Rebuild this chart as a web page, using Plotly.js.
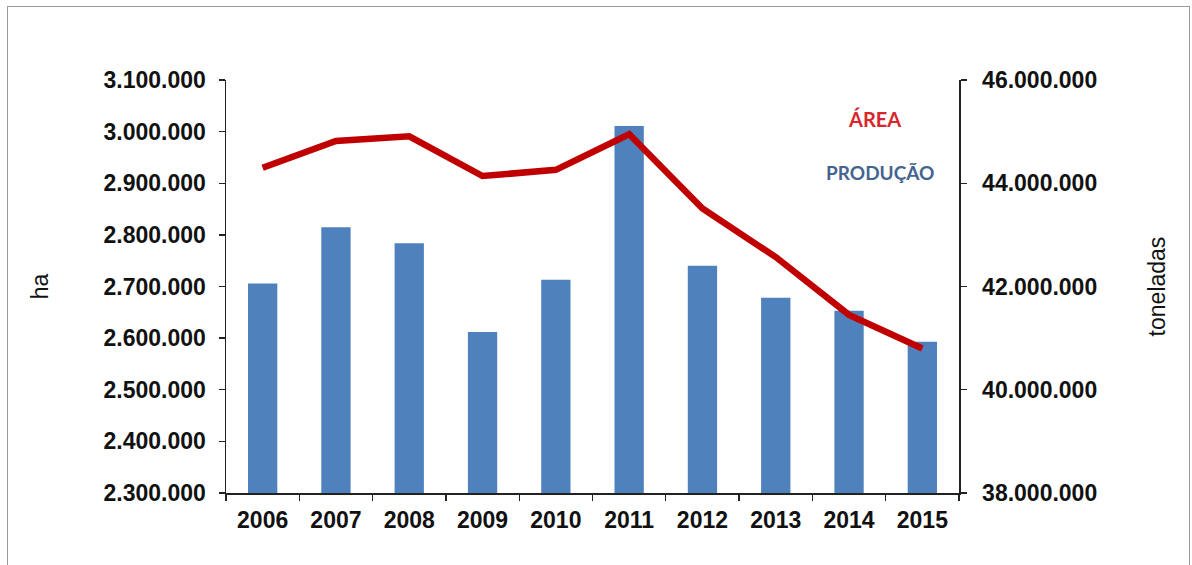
<!DOCTYPE html>
<html>
<head>
<meta charset="utf-8">
<script src="https://cdn.plot.ly/plotly-3.0.1.min.js"></script>
<style>
  html, body { margin: 0; padding: 0; background: #fff; }
  #wrap { position: relative; width: 1192px; height: 565px; }
  #chart { width: 1192px; height: 565px; }
  #frame { position: absolute; left: 7px; top: 6px; width: 1183px; height: 580px;
           border: 1px solid #9a9a9a; pointer-events: none; box-sizing: border-box; }
</style>
</head>
<body>
<div id="wrap">
  <div id="chart"></div>
  <div id="frame"></div>
</div>
<script>
const years = ['2006','2007','2008','2009','2010','2011','2012','2013','2014','2015'];
const producao = [42060000, 43150000, 42840000, 41120000, 42130000, 45110000, 42400000, 41780000, 41530000, 40930000];
const area = [2930000, 2982000, 2991000, 2914000, 2926000, 2995000, 2851000, 2757000, 2645000, 2580000];
const areaLabel = 'ÁREA';
const producaoLabel = 'PRODUÇÃO';

const fam = 'Liberation Sans, Arial, sans-serif';
const tickFontSpec = {family: fam, size: 23, color: '#111', weight: 'bold'};
const titleFont = {family: fam, size: 23, color: '#111'};

const traces = [
  {
    type: 'bar', x: years, y: producao, name: producaoLabel, yaxis: 'y',
    marker: {color: '#4F81BD'}, width: 0.4, showlegend: false, hoverinfo: 'x+y'
  },
  {
    type: 'scatter', mode: 'lines', x: years, y: area, name: areaLabel, yaxis: 'y2',
    line: {color: '#C00000', width: 6.5}, showlegend: false, hoverinfo: 'x+y'
  }
];

const layout = {
  width: 1192, height: 565,
  paper_bgcolor: '#fff', plot_bgcolor: 'rgba(0,0,0,0)',
  separators: ',.',
  margin: {l: 226, r: 233, t: 80, b: 72, pad: 0},
  showlegend: false,
  xaxis: {
    type: 'category', range: [-0.5, 9.5], fixedrange: true,
    showline: true, linecolor: '#222', linewidth: 1.5,
    ticks: 'outside', ticklen: 6, tickwidth: 1.3, tickcolor: '#222',
    tickson: 'boundaries', showgrid: false, zeroline: false,
    ticklabelstandoff: 6,
    tickfont: tickFontSpec
  },
  yaxis: {
    side: 'right', range: [38000000, 46000000], dtick: 2000000, tick0: 38000000,
    tickformat: ',.0f', showgrid: false, zeroline: false,
    showline: true, linecolor: '#222', linewidth: 1.5,
    ticks: 'outside', ticklen: 6, tickwidth: 1.3, tickcolor: '#222',
    ticklabelstandoff: 11,
    tickfont: tickFontSpec,
    title: {text: 'toneladas', font: titleFont, standoff: 52}
  },
  yaxis2: {
    overlaying: 'y', side: 'left', range: [2300000, 3100000], dtick: 100000, tick0: 2300000,
    tickformat: ',.0f', showgrid: false, zeroline: false,
    showline: true, linecolor: '#222', linewidth: 1.5,
    ticks: 'outside', ticklen: 6, tickwidth: 1.3, tickcolor: '#222',
    ticklabelstandoff: 8,
    tickfont: tickFontSpec,
    title: {text: 'ha', font: titleFont, standoff: 48}
  },
  annotations: [
    {xref: 'paper', yref: 'paper', x: 0.885, y: 0.906, text: areaLabel, showarrow: false,
     xanchor: 'center', yanchor: 'middle',
     font: {family: 'Lato, Open Sans, sans-serif', size: 20, color: '#D9262C', weight: 'bold'}},
    {xref: 'paper', yref: 'paper', x: 0.892, y: 0.775, text: producaoLabel, showarrow: false,
     xanchor: 'center', yanchor: 'middle',
     font: {family: 'Lato, Open Sans, sans-serif', size: 19, color: '#44648F', weight: 'bold'}}
  ]
};

Plotly.newPlot('chart', traces, layout, {displayModeBar: false, staticPlot: true});
</script>
</body>
</html>
